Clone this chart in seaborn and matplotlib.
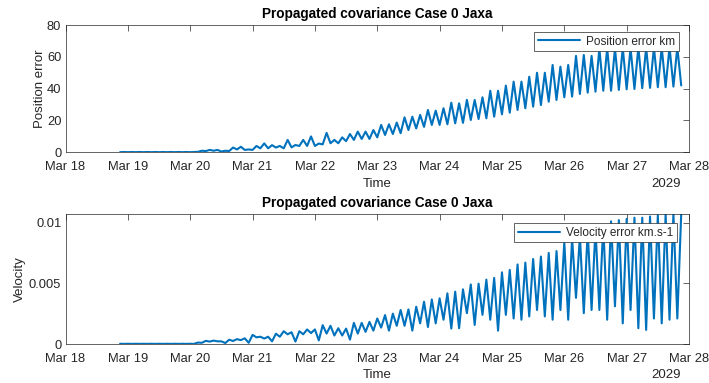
import numpy as np
import pandas as pd
import matplotlib
matplotlib.use("Agg")
import matplotlib.pyplot as plt
import matplotlib.dates as mdates
import seaborn as sns

# Samples every 90 minutes: alternating minimum / maximum of each ~3 h oscillation
start_time = "2029-03-18 21:00"
sample_step = "90min"

# Position error (km): minima (73) and maxima (72) of each cycle
pos_min = [0.1, 0.1, 0.1, 0.1, 0.1, 0.1, 0.1, 0.1, 0.1, 0.1,
           0.3, 0.8, 1.0, 0.5, 0.8, 1.8, 1.5, 1.5, 2.5, 2.5,
           3.0, 2.5, 3.1, 4.0, 4.0, 4.0, 5.0, 5.7, 5.7, 7.0,
           7.8, 8.4, 8.4, 9.4, 10.9, 11.5, 12.0, 14.0, 15.0, 16.0,
           17.2, 17.2, 17.6, 18.2, 18.5, 20.3, 20.9, 21.4, 22.4, 23.9,
           24.9, 26.6, 27.7, 28.7, 29.7, 31.8, 32.9, 34.6, 35.0, 36.7,
           37.5, 38.1, 38.7, 38.7, 39.2, 39.6, 39.8, 40.3, 40.5, 40.9,
           40.9, 41.3, 42.0]
pos_max = [0.2, 0.2, 0.2, 0.2, 0.2, 0.2, 0.2, 0.2, 0.2, 0.2,
           1.0, 1.5, 1.5, 1.0, 3.0, 3.5, 1.8, 4.0, 5.6, 4.5,
           4.0, 7.8, 4.6, 7.8, 10.0, 5.5, 12.2, 7.8, 9.4, 11.5,
           13.0, 13.0, 14.0, 17.2, 17.6, 18.7, 22.0, 22.4, 23.5, 26.6,
           26.2, 27.7, 31.2, 30.8, 33.0, 32.9, 34.6, 38.7, 38.7, 41.9,
           44.4, 44.4, 47.5, 50.0, 50.0, 54.9, 53.8, 54.9, 60.6, 61.2,
           60.6, 65.2, 65.5, 65.3, 65.8, 65.6, 66.0, 65.8, 66.1, 65.9,
           66.2, 66.0]

# Velocity error (km/s): maxima (73) and minima (72) of each cycle
vel_max = [0.00002] * 10 + [
    0.00012, 0.00026, 0.00028, 0.00022, 0.00035, 0.0004, 0.00047, 0.00075, 0.0006, 0.0006,
    0.00085, 0.00105, 0.00097, 0.00105, 0.0012, 0.0012, 0.00155, 0.0015, 0.0013, 0.00127,
    0.00174, 0.00174, 0.00182, 0.0021, 0.00238, 0.0025, 0.0028, 0.00285, 0.00307, 0.00348,
    0.00367, 0.00376, 0.00417, 0.00431, 0.0045, 0.0049, 0.00497, 0.0053, 0.00544, 0.0059,
    0.0061, 0.00655, 0.0067, 0.0070, 0.0072, 0.0075, 0.00765, 0.0084, 0.0087, 0.0089,
    0.0093, 0.0095, 0.0098, 0.0101, 0.0102, 0.0103, 0.0104, 0.0104, 0.0105, 0.0106,
    0.0107, 0.0107, 0.0107]
vel_min = [0.00001] * 10 + [
    0.0001, 0.0002, 0.00022, 0.00008, 0.00025, 0.00032, 0.0001, 0.00055, 0.00045, 0.00022,
    0.0006, 0.0008, 0.0002, 0.0008, 0.0009, 0.0003, 0.00086, 0.0007, 0.0007, 0.00036,
    0.00086, 0.001, 0.0011, 0.00135, 0.0011, 0.0015, 0.0015, 0.0011, 0.0017, 0.0014,
    0.0017, 0.002, 0.00127, 0.0013, 0.00254, 0.00157, 0.0024, 0.002, 0.0011, 0.0024,
    0.0021, 0.002, 0.00227, 0.0028, 0.00227, 0.002, 0.0028, 0.002, 0.0038, 0.00254,
    0.0028, 0.0028, 0.002, 0.0031, 0.0017, 0.0028, 0.0013, 0.00116, 0.0021, 0.0017,
    0.002, 0.0021]

title = "Propagated covariance Case 0 Jaxa"
pos_label = "Position error km"
vel_label = "Velocity error km.s-1"
x_start, x_end = "2029-03-18", "2029-03-28"


def interleave(first, second):
    out = []
    for i, v in enumerate(first):
        out.append(v)
        if i < len(second):
            out.append(second[i])
    return out


position = interleave(pos_min, pos_max)
velocity = interleave(vel_max, vel_min)
times = pd.date_range(start=start_time, periods=len(position), freq=sample_step)
df = pd.DataFrame({"Time": times, "position": position, "velocity": velocity})

sns.set_theme(style="white")
plt.rcParams["font.family"] = ["Liberation Sans", "DejaVu Sans"]

line_color = "#0072BD"
ink = "#262626"

fig = plt.figure(figsize=(7.09, 3.83), dpi=100)
ax1 = fig.add_axes([0.0924, 0.6023, 0.8794, 0.3324])
ax2 = fig.add_axes([0.0924, 0.1018, 0.8794, 0.3394])

sns.lineplot(data=df, x="Time", y="position", ax=ax1, color=line_color,
             linewidth=1.5, label=pos_label, estimator=None)
sns.lineplot(data=df, x="Time", y="velocity", ax=ax2, color=line_color,
             linewidth=1.5, label=vel_label, estimator=None)

ax1.set_ylim(0, 80)
ax1.set_yticks([0, 20, 40, 60, 80])
ax2.set_ylim(0, max(vel_max))
ax2.set_yticks([0, 0.005, 0.01])
ax2.set_yticklabels(["0", "0.005", "0.01"])

for ax, ylab, lab_x, leg_anchor in [
        (ax1, "Position error", -0.031, (0.984, 0.945)),
        (ax2, "Velocity", -0.064, (0.981, 0.93))]:
    ax.set_xlim(pd.Timestamp(x_start), pd.Timestamp(x_end))
    ax.xaxis.set_major_locator(mdates.DayLocator())
    ax.xaxis.set_major_formatter(mdates.DateFormatter("%b %d"))
    ax.set_title(title, fontsize=9.8, fontweight="bold", color="black", pad=5)
    ax.set_xlabel("Time", fontsize=9.5, color=ink, labelpad=3)
    ax.set_ylabel(ylab, fontsize=9.5, color=ink)
    ax.yaxis.set_label_coords(lab_x, 0.5)
    ax.tick_params(direction="in", top=True, right=True, length=4, width=0.5,
                   colors=ink, labelsize=9.3)
    ax.tick_params(axis="x", pad=6.5)
    ax.tick_params(axis="y", pad=3)
    for s in ax.spines.values():
        s.set_visible(True)
        s.set_color(ink)
        s.set_linewidth(0.5)
    ax.annotate("2029", xy=(0.987, 0), xycoords="axes fraction",
                xytext=(0, -22.5), textcoords="offset points",
                ha="right", va="center", fontsize=9.5, color=ink)
    leg = ax.legend(loc="upper right", bbox_to_anchor=leg_anchor, fontsize=8.5,
                    frameon=True, fancybox=False, framealpha=1,
                    handlelength=3.6, borderpad=0.3, borderaxespad=0.0,
                    handletextpad=0.5)
    leg.get_frame().set_edgecolor(ink)
    leg.get_frame().set_linewidth(0.5)

fig.savefig("out.png", dpi=100)
